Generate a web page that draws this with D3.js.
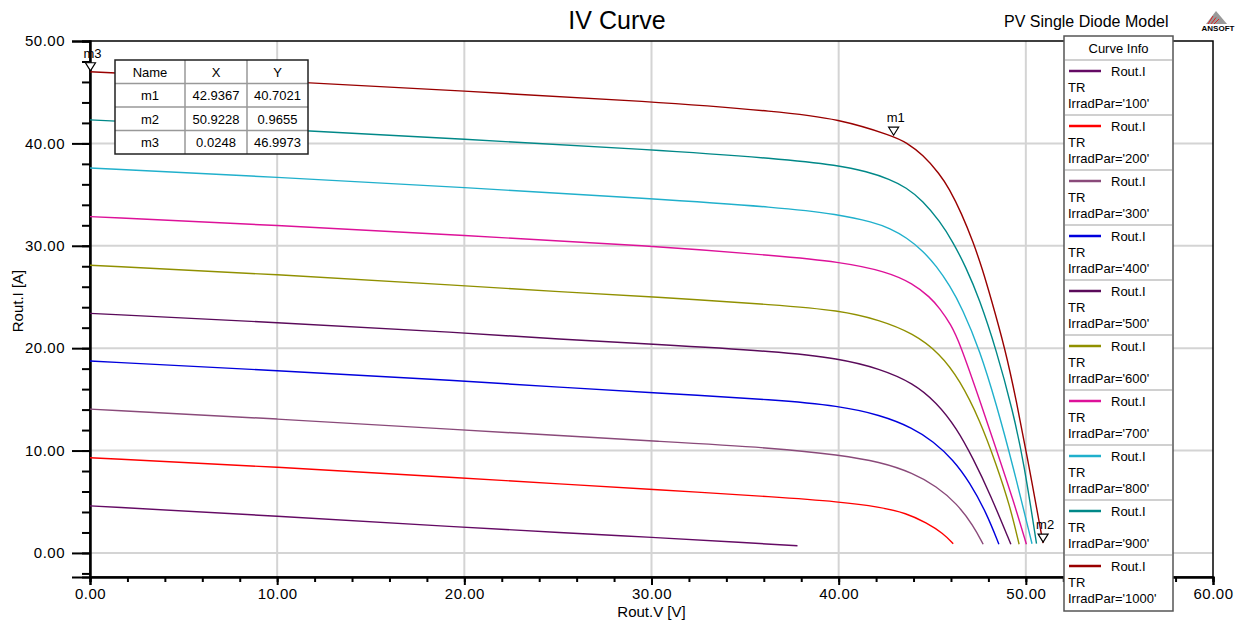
<!DOCTYPE html>
<html>
<head>
<meta charset="utf-8">
<script src="https://d3js.org/d3.v7.min.js"></script>
<style>
  body { margin: 0; background: #fff; }
  text { font-family: Arial, "Liberation Sans", sans-serif; fill: #000; }
</style>
</head>
<body>
<div id="chart"></div>
<script>
// Data: [Rout.V, Rout.I] for each IrradPar
const irradLevels = ['100', '200', '300', '400', '500', '600', '700', '800', '900', '1000']
const curveColors = ['#640a64', '#ff0000', '#8a4a7a', '#0000dd', '#5a0a5a', '#909000', '#dd1199', '#20b0cc', '#008888', '#990000']

const curve100 = [[0,4.6],[10,3.6],[20,2.5],[25.1,1.98],[30,1.53],[35,1.0],[37.8,0.7]]
const curve200 = [[0,9.3],[10,8.4],[20,7.3],[25.1,6.74],[30,6.22],[36.86,5.44],[40,5.0],[42.2,4.5],[43.62,3.88],[44.69,2.95],[45.58,1.92],[46.12,0.9]]
const curve300 = [[0,14.05],[10,13.1],[20,12.0],[25.1,11.46],[30,10.94],[36.86,10.22],[40,9.57],[42.2,8.9],[43.98,7.8],[45.23,6.5],[46.3,4.85],[47.19,2.7],[47.72,0.85]]
const curve400 = [[0,18.75],[10,17.8],[20,16.8],[25.1,16.18],[30,15.65],[36.86,14.94],[40,14.36],[42.2,13.5],[43.98,12.2],[45.05,10.9],[46.12,9.1],[47.0,6.9],[47.9,3.9],[48.56,0.85]]
const curve500 = [[0,23.4],[10,22.5],[20,21.5],[25.1,20.87],[30,20.4],[36.86,19.66],[40,19.0],[42.2,18.0],[43.98,16.6],[45.23,14.7],[46.3,12.2],[47.19,9.2],[48.08,5.8],[49.2,0.85]]
const curve600 = [[0,28.1],[10,27.2],[20,26.1],[25.1,25.5],[30,25.03],[36.86,24.2],[40,23.7],[42.2,22.75],[43.98,21.45],[45.4,19.5],[46.47,16.9],[47.54,13.0],[48.43,8.6],[49.15,4.6],[49.64,0.85]]
const curve700 = [[0,32.85],[10,32.0],[20,31.0],[30,30.0],[36.86,29.0],[40,28.45],[42.56,27.5],[43.98,26.3],[44.87,25.0],[45.4,23.9],[46.0,22.3],[46.47,20.5],[47.54,14.9],[48.43,10.06],[49.32,5.2],[50.03,0.85]]
const curve800 = [[0,37.6],[10,36.7],[20,35.7],[30,34.6],[36.86,33.75],[40,33.07],[41.84,32.3],[42.74,31.7],[43.63,30.8],[44.5,29.5],[45.23,28.0],[45.94,26.1],[46.6,23.9],[47.54,19.8],[48.43,14.5],[49.3,8.6],[50.33,0.9]]
const curve900 = [[0,42.3],[10,41.4],[20,40.4],[30,39.4],[36.86,38.5],[40,37.85],[41.5,37.25],[42.74,36.5],[43.6,35.7],[44.5,34.4],[45.4,32.4],[46.1,30.4],[46.8,27.9],[47.5,24.9],[48.43,19.8],[49.3,13.9],[49.9,8.8],[50.57,0.9]]
const curve1000 = [[0,47.0],[10,46.1],[20,45.1],[30,44.1],[36.86,43.1],[40,42.4],[42.94,40.7],[43.6,40.1],[44.5,38.9],[45.4,37.0],[45.9,35.6],[46.56,33.2],[47.2,30.3],[47.7,27.6],[48.1,25.1],[48.9,19.9],[49.5,14.8],[50.04,9.74],[50.92,0.97]]
const curves = [curve100, curve200, curve300, curve400, curve500, curve600, curve700, curve800, curve900, curve1000]

const xTicks = [0, 10, 20, 30, 40, 50, 60]
const yTicks = [0, 10, 20, 30, 40, 50]

const markerNames = ['m1', 'm2', 'm3']
const markerX = [42.9367, 50.9228, 0.0248]
const markerY = [40.7021, 0.9655, 46.9973]

// Layout
const width = 1241, height = 623
const plot = { left: 90, right: 1213, top: 41, bottom: 577 }

const svg = d3.select('#chart').append('svg')
  .attr('width', width)
  .attr('height', height)

const x = d3.scaleLinear().domain([0, 60]).range([plot.left, plot.right])
const y = d3.scaleLinear().domain([-2.35, 50]).range([plot.bottom, plot.top])
const fmt = d3.format('.2f')

// grid
svg.append('g').selectAll('line.gx')
  .data(xTicks.filter(d => d > 0 && d < 60))
  .join('line')
  .attr('x1', d => x(d)).attr('x2', d => x(d))
  .attr('y1', plot.top).attr('y2', plot.bottom)
  .attr('stroke', '#d4d4d4').attr('stroke-width', 2)
svg.append('g').selectAll('line.gy')
  .data(yTicks.filter(d => d < 50))
  .join('line')
  .attr('x1', plot.left).attr('x2', plot.right)
  .attr('y1', d => y(d)).attr('y2', d => y(d))
  .attr('stroke', '#d4d4d4').attr('stroke-width', 2)

// frame
svg.append('rect')
  .attr('x', plot.left).attr('y', plot.top)
  .attr('width', plot.right - plot.left).attr('height', plot.bottom - plot.top)
  .attr('fill', 'none').attr('stroke', '#000').attr('stroke-width', 1.5)

// axes
const xMinor = d3.range(0, 61, 2)
const yMinor = d3.range(-2, 51, 2)

svg.append('g')
  .attr('transform', `translate(0,${plot.bottom})`)
  .call(d3.axisBottom(x).tickValues(xMinor).tickSize(5).tickFormat(''))
svg.append('g')
  .attr('transform', `translate(0,${plot.bottom})`)
  .call(d3.axisBottom(x).tickValues(xTicks).tickSize(8).tickPadding(3).tickFormat(fmt))
svg.append('g')
  .attr('transform', `translate(${plot.left},0)`)
  .call(d3.axisLeft(y).tickValues(yMinor).tickSize(8).tickFormat(''))
svg.append('g')
  .attr('transform', `translate(${plot.left},0)`)
  .call(d3.axisLeft(y).tickValues(yTicks).tickSize(18).tickPadding(7).tickFormat(fmt))

svg.selectAll('.domain').attr('stroke', '#000').attr('stroke-width', 2)
svg.selectAll('.tick line').attr('stroke', '#000').attr('stroke-width', 2)
svg.selectAll('.tick text')
  .attr('font-family', 'Arial, "Liberation Sans", sans-serif')
  .attr('font-size', 15).attr('letter-spacing', 0.5).attr('fill', '#000')

// axis titles
svg.append('text')
  .attr('x', (plot.left + plot.right) / 2).attr('y', 617)
  .attr('text-anchor', 'middle').attr('font-size', 15)
  .text('Rout.V [V]')
svg.append('text')
  .attr('transform', 'translate(23,301) rotate(-90)')
  .attr('text-anchor', 'middle').attr('font-size', 15)
  .text('Rout.I [A]')

// curves
svg.append('clipPath').attr('id', 'clip')
  .append('rect')
  .attr('x', plot.left).attr('y', plot.top)
  .attr('width', plot.right - plot.left).attr('height', plot.bottom - plot.top)

const line = d3.line()
  .x(d => x(d[0]))
  .y(d => y(d[1]))
  .curve(d3.curveBasis)

svg.append('g').attr('clip-path', 'url(#clip)')
  .selectAll('path')
  .data(curves)
  .join('path')
  .attr('d', line)
  .attr('fill', 'none')
  .attr('stroke', (d, i) => curveColors[i])
  .attr('stroke-width', 1.4)

// markers
const markers = svg.append('g')
markerNames.forEach((name, i) => {
  const px = x(markerX[i]), py = y(markerY[i])
  markers.append('path')
    .attr('d', `M${px - 5},${py - 9}L${px + 5},${py - 9}L${px},${py - 1}Z`)
    .attr('fill', '#fff').attr('stroke', '#000').attr('stroke-width', 1.2)
  markers.append('text')
    .attr('x', px - 7).attr('y', py - 14)
    .attr('font-size', 13)
    .text(name)
})

// marker table
const table = { x: 115, y: 60, cols: [70, 62, 61], rowH: 23.5 }
const tableRows = [['Name', 'X', 'Y']].concat(markerNames.map((n, i) => [n, markerX[i].toFixed(4), markerY[i].toFixed(4)]))
const tg = svg.append('g')
const tw = d3.sum(table.cols)
tg.append('rect')
  .attr('x', table.x).attr('y', table.y)
  .attr('width', tw).attr('height', table.rowH * tableRows.length)
  .attr('fill', '#fff')
let cx = table.x
table.cols.forEach((w, ci) => {
  tableRows.forEach((row, ri) => {
    tg.append('text')
      .attr('x', cx + w / 2).attr('y', table.y + ri * table.rowH + 16.5)
      .attr('text-anchor', 'middle').attr('font-size', 13)
      .text(row[ci])
  })
  if (ci > 0) {
    tg.append('line')
      .attr('x1', cx).attr('x2', cx)
      .attr('y1', table.y).attr('y2', table.y + table.rowH * tableRows.length)
      .attr('stroke', '#999').attr('stroke-width', 1.5)
  }
  cx += w
})
d3.range(1, tableRows.length).forEach(ri => {
  tg.append('line')
    .attr('x1', table.x).attr('x2', table.x + tw)
    .attr('y1', table.y + ri * table.rowH).attr('y2', table.y + ri * table.rowH)
    .attr('stroke', '#999').attr('stroke-width', 1.5)
})
tg.append('rect')
  .attr('x', table.x).attr('y', table.y)
  .attr('width', tw).attr('height', table.rowH * tableRows.length)
  .attr('fill', 'none').attr('stroke', '#222').attr('stroke-width', 1.5)

// legend
const lg = svg.append('g')
const legend = { x: 1064, y: 36, w: 109, head: 24, rowH: 55 }
lg.append('rect')
  .attr('x', legend.x).attr('y', legend.y)
  .attr('width', legend.w).attr('height', legend.head + legend.rowH * irradLevels.length + 1)
  .attr('fill', '#fff').attr('stroke', '#555').attr('stroke-width', 1.5)
lg.append('text')
  .attr('x', legend.x + legend.w / 2).attr('y', legend.y + 17)
  .attr('text-anchor', 'middle').attr('font-size', 13)
  .text('Curve Info')
irradLevels.forEach((lvl, i) => {
  const top = legend.y + legend.head + i * legend.rowH
  lg.append('line')
    .attr('x1', legend.x + 1).attr('x2', legend.x + legend.w - 1)
    .attr('y1', top).attr('y2', top)
    .attr('stroke', '#d0d0d0').attr('stroke-width', 2)
  lg.append('line')
    .attr('x1', legend.x + 5).attr('x2', legend.x + 37)
    .attr('y1', top + 11).attr('y2', top + 11)
    .attr('stroke', curveColors[i]).attr('stroke-width', 2.5)
  lg.append('text').attr('x', legend.x + 47).attr('y', top + 16).attr('font-size', 13).text('Rout.I')
  lg.append('text').attr('x', legend.x + 4).attr('y', top + 32).attr('font-size', 13).text('TR')
  lg.append('text').attr('x', legend.x + 4).attr('y', top + 48).attr('font-size', 13).text(`IrradPar='${lvl}'`)
})

// titles
svg.append('text')
  .attr('x', 617).attr('y', 29)
  .attr('text-anchor', 'middle').attr('font-size', 25)
  .text('IV Curve')
svg.append('text')
  .attr('x', 1004).attr('y', 27)
  .attr('font-size', 16)
  .text('PV Single Diode Model')

// ANSOFT logo
const logo = svg.append('g')
logo.append('path').attr('d', 'M1216,11L1206,24L1227,24Z').attr('fill', '#9a9a9a')
d3.range(3).forEach(k => {
  logo.append('line')
    .attr('x1', 1208 + k * 3).attr('y1', 24)
    .attr('x2', 1213 + k * 3).attr('y2', 16 + k * 1.5)
    .attr('stroke', '#d22').attr('stroke-width', 1)
})
logo.append('text')
  .attr('x', 1218).attr('y', 31)
  .attr('text-anchor', 'middle')
  .attr('font-family', '"Liberation Serif", "DejaVu Serif", serif')
  .attr('font-size', 8).attr('font-weight', 'bold')
  .text('ANSOFT')
</script>
</body>
</html>
